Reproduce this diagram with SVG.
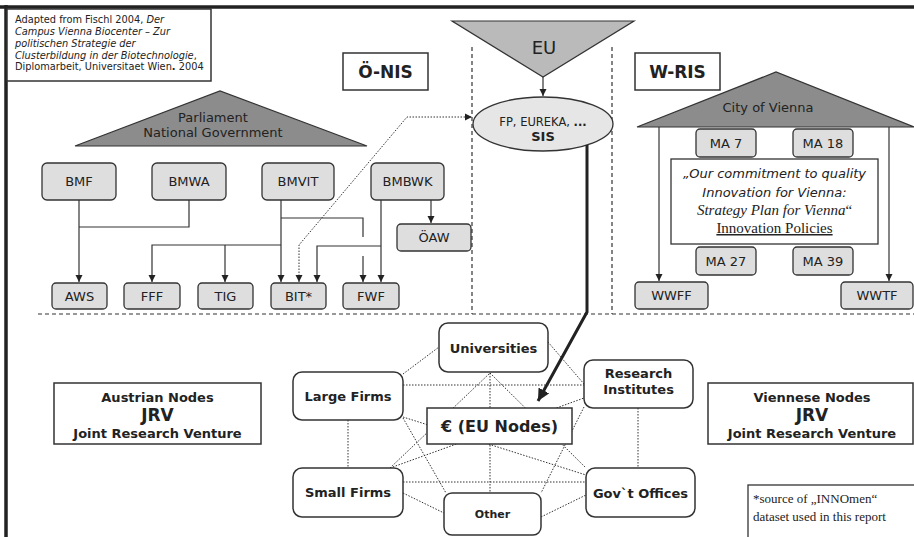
<svg xmlns="http://www.w3.org/2000/svg" width="914" height="537" viewBox="0 0 914 537">
<defs>
<marker id="ah" markerWidth="8" markerHeight="8" refX="7" refY="4" orient="auto" markerUnits="userSpaceOnUse"><path d="M0,0.5 L7,4 L0,7.5 z" fill="#222"/></marker>
<marker id="ahd" markerWidth="8" markerHeight="8" refX="7" refY="4" orient="auto-start-reverse" markerUnits="userSpaceOnUse"><path d="M0,0.5 L7,4 L0,7.5 z" fill="#222"/></marker>
<marker id="ahb" markerWidth="14" markerHeight="14" refX="12" refY="6" orient="auto" markerUnits="userSpaceOnUse"><path d="M0,0 L12,6 L0,12 z" fill="#222"/></marker>
</defs>
<style>
.t{font-family:"DejaVu Sans",Verdana,sans-serif;fill:#222}
.s{font-family:"Liberation Serif","Times New Roman",serif;fill:#222}
.gb{fill:#dedede;stroke:#333;stroke-width:1.3}
.wb{fill:#fff;stroke:#333;stroke-width:1.5}
.ln{fill:none;stroke:#333;stroke-width:1.2}
.dot{fill:none;stroke:#333;stroke-width:1;stroke-dasharray:1.5 1.5}
.dash{fill:none;stroke:#333;stroke-width:1.2;stroke-dasharray:4 3}
.tri{stroke:#333;stroke-width:1.2}
.b13{font-size:13px}
.nb{font-size:13px;font-weight:bold}
</style>

<!-- frame -->
<path d="M0 7 H914 M6 5 V537" fill="none" stroke="#222" stroke-width="3.5"/>

<!-- separators -->
<g id="separators">
<path class="dash" d="M38 314 H914"/>
<path class="dash" d="M472 47 V314"/>
<path class="dash" d="M612 47 V314"/>
</g>

<!-- citation -->
<g id="citation">
<rect x="7" y="9" width="204" height="72" fill="#fff" stroke="#333" stroke-width="1.5"/>
<text class="t" font-size="9.8">
<tspan x="15" y="23">Adapted from Fischl 2004, <tspan font-style="italic">Der</tspan></tspan>
<tspan x="15" y="35" font-style="italic">Campus Vienna Biocenter – Zur</tspan>
<tspan x="15" y="47" font-style="italic">politischen Strategie der</tspan>
<tspan x="15" y="58.5"><tspan font-style="italic">Clusterbildung in der Biotechnologie</tspan>,</tspan>
<tspan x="15" y="70">Diplomarbeit, Universitaet Wien<tspan font-weight="bold">.</tspan> 2004</tspan>
</text>
</g>

<g id="onis"><rect x="343" y="53" width="85" height="37" class="wb"/><text class="t" x="385.5" y="78" font-size="17" font-weight="bold" text-anchor="middle">Ö-NIS</text></g>
<g id="wris"><rect x="635" y="53" width="85" height="37" class="wb"/><text class="t" x="677.5" y="78" font-size="17" font-weight="bold" text-anchor="middle">W-RIS</text></g>

<g id="parliament">
<polygon class="tri" points="75,146 220,91 367,146" fill="#8c8c8c"/>
<text class="t b13" text-anchor="middle"><tspan x="213" y="122">Parliament</tspan><tspan x="213" y="137">National Government</tspan></text>
</g>

<g id="eu">
<polygon class="tri" points="452,21 634,21 543,77" fill="#bababa"/>
<text class="t" x="544" y="54" font-size="18" text-anchor="middle">EU</text>
</g>

<g id="sis">
<ellipse cx="543" cy="124" rx="70" ry="27" fill="#e6e6e6" stroke="#333" stroke-width="1.3"/>
<text class="t" x="543" y="126" font-size="11.5" text-anchor="middle">FP, EUREKA, <tspan font-weight="bold">...</tspan></text>
<text class="t" x="543" y="141" font-size="13" font-weight="bold" text-anchor="middle">SIS</text>
</g>

<g id="city">
<polygon class="tri" points="637,127 776,72 914,127" fill="#8c8c8c"/>
<text class="t b13" x="768" y="112" text-anchor="middle">City of Vienna</text>
</g>

<!-- connectors -->
<g id="connectors">
<path class="ln" d="M79 200 V282" marker-end="url(#ah)"/>
<path class="ln" d="M189 200 V227 H79"/>
<path class="ln" d="M281 200 V282" marker-end="url(#ah)"/>
<path class="ln" d="M281 218 H363 V237"/>
<path class="ln" d="M363 256 V282" marker-end="url(#ah)"/>
<path class="ln" d="M281 245 H152 V282" marker-end="url(#ah)"/>
<path class="ln" d="M225 245 V282" marker-end="url(#ah)"/>
<path class="ln" d="M381 200 V282" marker-end="url(#ah)"/>
<path class="ln" d="M381 246 H317 V282" marker-end="url(#ah)"/>
<path class="ln" d="M431 200 V223" marker-end="url(#ah)"/>
<path class="dot" d="M299 282 V245 L407 117 H472" marker-start="url(#ahd)" marker-end="url(#ahd)"/>
<path class="ln" d="M543 77 V96" marker-end="url(#ah)"/>
<path fill="none" stroke="#222" stroke-width="3" d="M587 145 V312 L538 401" marker-end="url(#ahb)"/>
<path class="ln" d="M659 127 V281" marker-end="url(#ah)"/>
<path class="ln" d="M889 127 V281" marker-end="url(#ah)"/>
<!-- network -->
<path class="dot" d="M403 374 L439 347"/>
<path class="dot" d="M403 385 H584"/>
<path class="dot" d="M548 342 L584 384"/>
<path class="dot" d="M490 373 V493"/>
<path class="dot" d="M390 468 L490 373"/>
<path class="dot" d="M490 373 L586 468"/>
<path class="dot" d="M390 468 L584 398"/>
<path class="dot" d="M584 407 L541 493"/>
<path class="dot" d="M638 408 V468"/>
<path class="dot" d="M348 420 V468"/>
<path class="dot" d="M403 417 L586 475"/>
<path class="dot" d="M403 418 L446 493"/>
<path class="dot" d="M403 482 H586"/>
<path class="dot" d="M403 493 L444 513"/>
<path class="dot" d="M541 517 L586 495"/>
</g>

<!-- gray boxes -->
<g id="BMF"><rect class="gb" x="42" y="163" width="74" height="37" rx="5"/><text class="t b13" x="79" y="186" text-anchor="middle">BMF</text></g>
<g id="BMWA"><rect class="gb" x="152" y="163" width="74" height="37" rx="5"/><text class="t b13" x="189" y="186" text-anchor="middle">BMWA</text></g>
<g id="BMVIT"><rect class="gb" x="262" y="163" width="72" height="37" rx="5"/><text class="t b13" x="298" y="186" text-anchor="middle">BMVIT</text></g>
<g id="BMBWK"><rect class="gb" x="371" y="163" width="73" height="37" rx="5"/><text class="t b13" x="407.5" y="186" text-anchor="middle">BMBWK</text></g>
<g id="OEAW"><rect class="gb" x="397" y="224" width="74" height="27" rx="4"/><text class="t b13" x="434" y="242" text-anchor="middle">ÖAW</text></g>
<g id="AWS"><rect class="gb" x="52" y="283" width="55" height="26" rx="4"/><text class="t b13" x="79.5" y="300.5" text-anchor="middle">AWS</text></g>
<g id="FFF"><rect class="gb" x="124" y="283" width="56" height="26" rx="4"/><text class="t b13" x="152" y="300.5" text-anchor="middle">FFF</text></g>
<g id="TIG"><rect class="gb" x="198" y="283" width="55" height="26" rx="4"/><text class="t b13" x="225.5" y="300.5" text-anchor="middle">TIG</text></g>
<g id="BIT"><rect class="gb" x="271" y="283" width="55" height="26" rx="4"/><text class="t b13" x="298.5" y="300.5" text-anchor="middle">BIT*</text></g>
<g id="FWF"><rect class="gb" x="343" y="283" width="56" height="26" rx="4"/><text class="t b13" x="371" y="300.5" text-anchor="middle">FWF</text></g>
<g id="MA7"><rect class="gb" x="696" y="129" width="60" height="28" rx="4"/><text class="t b13" x="726" y="148" text-anchor="middle">MA 7</text></g>
<g id="MA18"><rect class="gb" x="793" y="129" width="60" height="28" rx="4"/><text class="t b13" x="823" y="148" text-anchor="middle">MA 18</text></g>
<g id="MA27"><rect class="gb" x="696" y="247" width="60" height="28" rx="4"/><text class="t b13" x="726" y="266" text-anchor="middle">MA 27</text></g>
<g id="MA39"><rect class="gb" x="793" y="247" width="60" height="28" rx="4"/><text class="t b13" x="823" y="266" text-anchor="middle">MA 39</text></g>
<g id="WWFF"><rect class="gb" x="635" y="282" width="73" height="27" rx="4"/><text class="t b13" x="671.5" y="300" text-anchor="middle">WWFF</text></g>
<g id="WWTF"><rect class="gb" x="841" y="282" width="72" height="27" rx="4"/><text class="t b13" x="877" y="300" text-anchor="middle">WWTF</text></g>

<g id="quote">
<rect x="671" y="159" width="207" height="85" fill="#fff" stroke="#333" stroke-width="1.3"/>
<text class="t" x="774.5" y="178" font-size="13" font-style="italic" text-anchor="middle">„Our commitment to quality</text>
<text class="t" x="774.5" y="197" font-size="13" font-style="italic" text-anchor="middle">Innovation for Vienna:</text>
<text class="s" x="774.5" y="215" font-size="15" text-anchor="middle"><tspan font-style="italic">Strategy Plan for Vienna</tspan>“</text>
<text class="s" x="774.5" y="233" font-size="15" text-anchor="middle" text-decoration="underline">Innovation Policies</text>
</g>

<!-- network nodes -->
<g id="universities"><rect class="wb" x="439" y="323" width="109" height="49" rx="9"/><text class="t nb" x="493.5" y="353" text-anchor="middle">Universities</text></g>
<g id="largefirms"><rect class="wb" x="293" y="372" width="110" height="48" rx="9"/><text class="t nb" x="348" y="401" text-anchor="middle">Large Firms</text></g>
<g id="research"><rect class="wb" x="584" y="360" width="109" height="48" rx="9"/><text class="t nb" text-anchor="middle"><tspan x="638.5" y="378">Research</tspan><tspan x="638.5" y="394">Institutes</tspan></text></g>
<g id="euNodes"><rect class="wb" x="427" y="408" width="145" height="36"/><text class="t" x="499.5" y="432" font-size="16" font-weight="bold" text-anchor="middle">€ (EU Nodes)</text></g>
<g id="smallfirms"><rect class="wb" x="293" y="468" width="110" height="49" rx="9"/><text class="t nb" x="348" y="497" text-anchor="middle">Small Firms</text></g>
<g id="govoffices"><rect class="wb" x="586" y="468" width="109" height="49" rx="9"/><text class="t nb" x="640.5" y="498" text-anchor="middle">Gov`t Offices</text></g>
<g id="other"><rect class="wb" x="444" y="493" width="97" height="42" rx="8"/><text class="t" x="492.5" y="518" font-size="11" font-weight="bold" text-anchor="middle">Other</text></g>

<g id="austrian">
<rect class="wb" x="54" y="383" width="207" height="61"/>
<text class="t nb" x="157.5" y="402" text-anchor="middle">Austrian Nodes</text>
<text class="t" x="157.5" y="421" font-size="17" font-weight="bold" text-anchor="middle">JRV</text>
<text class="t nb" x="157.5" y="438" text-anchor="middle">Joint Research Venture</text>
</g>
<g id="viennese">
<rect class="wb" x="708" y="383" width="205" height="61"/>
<text class="t nb" x="812" y="402" text-anchor="middle">Viennese Nodes</text>
<text class="t" x="812" y="421" font-size="17" font-weight="bold" text-anchor="middle">JRV</text>
<text class="t nb" x="812" y="438" text-anchor="middle">Joint Research Venture</text>
</g>

<g id="note">
<rect x="748" y="485" width="170" height="60" fill="#fff" stroke="#333" stroke-width="1.3"/>
<text class="s" font-size="13"><tspan x="753" y="503">*source of „INNOmen“</tspan><tspan x="753" y="521">dataset used in this report</tspan></text>
</g>
</svg>
